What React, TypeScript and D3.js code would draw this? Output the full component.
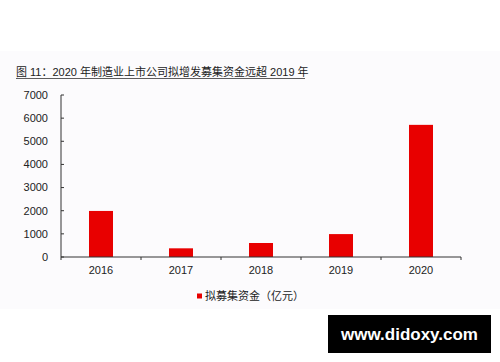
import React from 'react'
import * as d3 from 'd3'

const years = ['2016', '2017', '2018', '2019', '2020']
const raised = [1990, 375, 605, 990, 5710]
const yTicks = [0, 1000, 2000, 3000, 4000, 5000, 6000, 7000]
const title = '图 11：2020 年制造业上市公司拟增发募集资金远超 2019 年'
const seriesName = '拟募集资金（亿元）'

const width = 500
const height = 362
const left = 61
const right = 461
const top = 95
const bottom = 257

const x = d3.scaleBand().domain(years).range([left, right]).paddingInner(0).paddingOuter(0)
const y = d3.scaleLinear().domain([0, 7000]).range([bottom, top])
const barW = x.bandwidth() * 0.3

const font = 'Arial, "Liberation Sans", "Noto Sans CJK SC", sans-serif'

export default function App() {
  return (
    <svg
      width={width}
      height={height}
      style={{ position: 'absolute', left: 0, top: 0, background: '#fff' }}
      fontFamily={font}
    >
      <rect x={0} y={51} width={width} height={258} fill="#fcfbfd" />
      <text x={16} y={76} fontSize={11} fill="#222">
        {title}
      </text>
      <line x1={16} x2={305} y1={78.5} y2={78.5} stroke="#333" strokeWidth={0.8} />

      {raised.map((v, i) => (
        <rect
          key={years[i]}
          x={x(years[i])! + x.bandwidth() / 2 - barW / 2}
          y={y(v)}
          width={barW}
          height={y(0) - y(v)}
          fill="#e80000"
        />
      ))}

      <line x1={left} x2={left} y1={top} y2={bottom} stroke="#333" />
      {yTicks.map(t => (
        <g key={t}>
          <line x1={left} x2={left + 3} y1={y(t)} y2={y(t)} stroke="#333" />
          <text x={48} y={y(t)} dy="0.35em" textAnchor="end" fontSize={11} fill="#222">
            {t}
          </text>
        </g>
      ))}

      <line x1={left} x2={right} y1={bottom} y2={bottom} stroke="#333" />
      {[...years.map(c => x(c)!), right].map((px, i) => (
        <line key={i} x1={px} x2={px} y1={bottom} y2={bottom + 3} stroke="#333" />
      ))}
      {years.map(c => (
        <text
          key={c}
          x={x(c)! + x.bandwidth() / 2}
          y={274}
          textAnchor="middle"
          fontSize={11}
          fill="#222"
        >
          {c}
        </text>
      ))}

      <rect x={197} y={293.5} width={5} height={5} fill="#e80000" />
      <text x={205} y={296} dy="0.35em" fontSize={11} fill="#222">
        {seriesName}
      </text>

      <rect x={328} y={315} width={163} height={38} fill="#000" />
      <text
        x={409.5}
        y={334}
        dy="0.35em"
        textAnchor="middle"
        fontSize={17}
        fontWeight="bold"
        fill="#fff"
      >
        www.didoxy.com
      </text>
    </svg>
  )
}
